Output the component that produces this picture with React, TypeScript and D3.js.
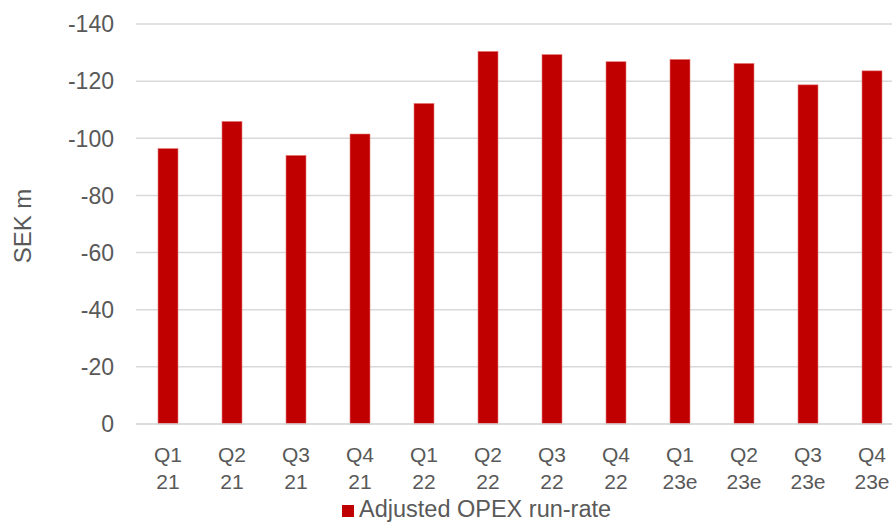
import React from "react";
import * as d3 from "d3";

// Quarterly adjusted OPEX run-rate, SEK m (costs shown as negative values)
const quarters = ["Q1", "Q2", "Q3", "Q4", "Q1", "Q2", "Q3", "Q4", "Q1", "Q2", "Q3", "Q4"];
const years = ["21", "21", "21", "21", "22", "22", "22", "22", "23e", "23e", "23e", "23e"];
const opex = [-96.4, -105.9, -94.0, -101.5, -112.2, -130.4, -129.3, -126.8, -127.6, -126.2, -118.7, -123.6];
const yTicks = [0, -20, -40, -60, -80, -100, -120, -140];
const seriesName = "Adjusted OPEX run-rate";

const W = 892;
const H = 522;
const plotLeft = 136;
const plotRight = 904;
const plotTop = 24;
const plotBottom = 424;
const barColor = "#C00000";
const textColor = "#595959";
const gridColor = "#D9D9D9";
const font = "Arial, 'Liberation Sans', Helvetica, sans-serif";

export default function App() {
  const idx = opex.map((_, i) => String(i));
  const x = d3.scaleBand<string>().domain(idx).range([plotLeft, plotRight]).paddingInner(0.6875).paddingOuter(0.34375);
  // 0 sits at the bottom, more negative values go up
  const y = d3.scaleLinear().domain([0, -140]).range([plotBottom, plotTop]);

  return (
    <svg
      width={W}
      height={H}
      style={{ position: "absolute", left: 0, top: 0, background: "#fff" }}
      fontFamily={font}
    >
      {yTicks.map((t) => (
        <g key={t}>
          <line
            x1={plotLeft}
            x2={W}
            y1={y(t)}
            y2={y(t)}
            stroke={gridColor}
            strokeWidth={1.5}
          />
          <text
            x={114}
            y={y(t)}
            dy="0.36em"
            textAnchor="end"
            fontSize={23}
            fill={textColor}
          >
            {t}
          </text>
        </g>
      ))}

      {opex.map((v, i) => (
        <rect
          key={i}
          x={x(String(i))}
          width={x.bandwidth()}
          y={y(Math.min(0, v))}
          height={y(0) - y(v)}
          fill={barColor}
          stroke="#e8797a"
          strokeWidth={0.6}
        />
      ))}

      {/* category axis line */}
      <line x1={plotLeft} x2={W} y1={y(0)} y2={y(0)} stroke={gridColor} strokeWidth={1.5} />

      {quarters.map((q, i) => {
        const cx = (x(String(i)) ?? 0) + x.bandwidth() / 2;
        return (
          <text key={i} x={cx} textAnchor="middle" fontSize={21} fill={textColor}>
            <tspan x={cx} y={462}>{q}</tspan>
            <tspan x={cx} y={489}>{years[i]}</tspan>
          </text>
        );
      })}

      <text
        transform={`translate(31, 226) rotate(-90)`}
        textAnchor="middle"
        fontSize={24}
        fill={textColor}
      >
        SEK m
      </text>

      <rect x={342} y={505} width={12} height={12} fill={barColor} />
      <text x={359} y={517} fontSize={23.5} fill={textColor}>
        {seriesName}
      </text>
    </svg>
  );
}
